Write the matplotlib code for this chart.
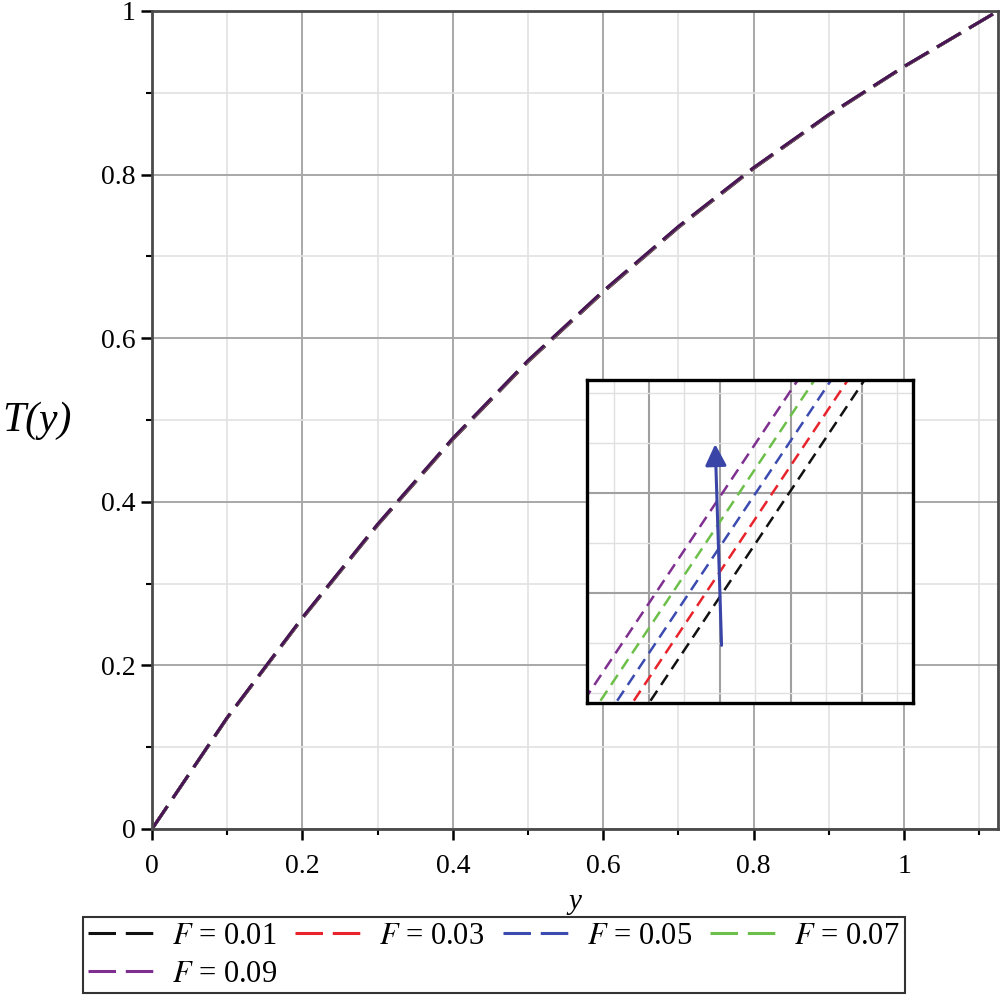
import numpy as np
import matplotlib
matplotlib.use("Agg")
from matplotlib import pyplot as plt
from matplotlib.ticker import MultipleLocator

plt.rcParams['font.family'] = 'Liberation Serif'
plt.rcParams['mathtext.fontset'] = 'stix'

y_vals = [0.0, 0.1, 0.2, 0.3, 0.4, 0.5, 0.6, 0.7, 0.8, 0.9, 1.0, 1.125]

# T(y) for each F (the curves only separate in the zoomed inset)
T_F001 = [0, 0.1356, 0.2574, 0.3713, 0.4762, 0.5712, 0.6562, 0.7353, 0.8074, 0.8725, 0.9317, 1.0]
T_F003 = [0, 0.1358, 0.2577, 0.37165, 0.4766, 0.5716, 0.6566, 0.73565, 0.8077, 0.87275, 0.93185, 1.0]
T_F005 = [0, 0.1360, 0.2580, 0.3720, 0.4770, 0.5720, 0.6570, 0.7360, 0.8080, 0.8730, 0.9320, 1.0]
T_F007 = [0, 0.1362, 0.2583, 0.37235, 0.4774, 0.5724, 0.6574, 0.73635, 0.8083, 0.87325, 0.93215, 1.0]
T_F009 = [0, 0.1364, 0.2586, 0.3727, 0.4778, 0.5728, 0.6578, 0.7367, 0.8086, 0.8735, 0.9323, 1.0]

labels = ['0.01', '0.03', '0.05', '0.07', '0.09']
series = [T_F001, T_F003, T_F005, T_F007, T_F009]
colors = ['#111111', '#e8232b', '#3b4bb0', '#6cc04a', '#7f2f90']
# overlapping curves in the main panel look dark purple
main_colors = ['#111111', '#e8232b', '#3b4bb0', '#6cc04a', '#4a1456']

fig = plt.figure(figsize=(10.06, 10.0), dpi=100)
ax = fig.add_axes([0.1511, 0.171, 0.841, 0.818])

for T, c in zip(series, main_colors):
    ax.plot(y_vals, T, color=c, lw=2.2, dashes=(9.0, 3.2))

ax.set_xlim(0, 1.125)
ax.set_ylim(0, 1.0)
ax.xaxis.set_minor_locator(MultipleLocator(0.1))
ax.yaxis.set_minor_locator(MultipleLocator(0.1))
ax.set_xticks([0, 0.2, 0.4, 0.6, 0.8, 1.0])
ax.set_xticklabels(['0', '0.2', '0.4', '0.6', '0.8', '1'])
ax.set_yticks([0, 0.2, 0.4, 0.6, 0.8, 1.0])
ax.set_yticklabels(['0', '0.2', '0.4', '0.6', '0.8', '1'])
ax.grid(which='major', color='#a8a8a8', lw=1.4)
ax.grid(which='minor', color='#e2e2e2', lw=1.2)
ax.set_axisbelow(True)
ax.tick_params(which='major', direction='out', length=8, width=1.8, labelsize=20)
ax.tick_params(which='minor', direction='out', length=4.5, width=1.5)
ax.tick_params(axis='x', which='major', pad=10)
ax.tick_params(axis='y', which='major', pad=4)
for s in ax.spines.values():
    s.set_color('#4a4a4a')
    s.set_linewidth(2.0)

ax.set_xlabel('y', fontsize=21, style='italic', va='center')
ax.xaxis.set_label_coords(0.5, -0.089)
ax.set_ylabel('T(y)', fontsize=30, style='italic', rotation=0, va='center', ha='center')
ax.yaxis.set_label_coords(-0.136, 0.499)

# zoomed inset
ins = fig.add_axes([587 / 1006, 1 - 703 / 1000, 326 / 1006, 323 / 1000])
handles = []
for T, c, lab in zip(series, colors, labels):
    h, = ins.plot(y_vals, T, color=c, lw=1.8, dashes=(4.8, 2.8),
                  label=r'$F$ = ' + lab)
    handles.append(h)
ins.set_xlim(0.55025, 0.55945)
ins.set_ylim(0.6154, 0.62057)
ins.set_xticks(np.arange(0.552, 0.5595, 0.002))
ins.set_xticks(np.arange(0.551, 0.5595, 0.001), minor=True)
ins.set_yticks([0.61716, 0.61876])
ins.set_yticks([0.61556, 0.61636, 0.61796, 0.61956, 0.62036], minor=True)
ins.grid(which='major', color='#a0a0a0', lw=1.5)
ins.grid(which='minor', color='#e0e0e0', lw=1.0)
ins.set_axisbelow(True)
ins.tick_params(which='both', length=0, labelbottom=False, labelleft=False)
for s in ins.spines.values():
    s.set_color('black')
    s.set_linewidth(2.4)
ins.annotate('', xy=(0.393, 0.81), xytext=(0.413, 0.17),
             xycoords='axes fraction', textcoords='axes fraction',
             arrowprops=dict(arrowstyle='-|>,head_length=1.3,head_width=0.65',
                             color='#3a45a8', lw=2.2))

# legend: row-wise order with 4 columns
order = [0, 4, 1, 2, 3]
leg_lines = []
for i in order:
    l, = ax.plot([], [], color=colors[i], lw=2.2, dashes=(9.0, 3.2))
    leg_lines.append(l)
leg = fig.legend(leg_lines, [handles[i].get_label() for i in order],
                 loc='upper left', bbox_to_anchor=(83 / 1006, 1 - 917 / 1000),
                 ncol=4, fontsize=22, frameon=True, fancybox=False,
                 handlelength=2.3, handletextpad=0.45, borderaxespad=0,
                 labelspacing=0.3, borderpad=0.15, columnspacing=0.6)
leg.get_frame().set_edgecolor('black')
leg.get_frame().set_linewidth(1.5)

fig.savefig('out.png', dpi=100)
